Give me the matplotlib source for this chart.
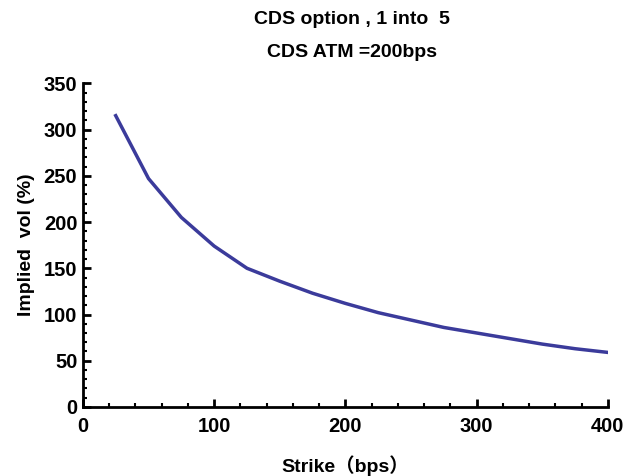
import numpy as np
import matplotlib
matplotlib.use("Agg")
import matplotlib.pyplot as plt
from matplotlib.ticker import MultipleLocator

# strike (bps) and implied vol (%)
strike = [25, 50, 75, 100, 125, 150, 175, 200, 225, 250, 275, 300, 325, 350, 375, 400]
implied_vol = [315, 247, 205, 174, 150, 136, 123, 112, 102, 94, 86, 80, 74, 68, 63, 59]

plt.rcParams['font.family'] = ['Liberation Sans', 'Noto Sans CJK SC', 'DejaVu Sans']
plt.rcParams['font.weight'] = 'bold'

fig = plt.figure(figsize=(6.28, 4.76), dpi=100)
ax = fig.add_axes([0.132, 0.145, 0.836, 0.68])

ax.plot(strike, implied_vol, color="#3b3b9b", linewidth=2.5)

ax.set_xlim(0, 400)
ax.set_ylim(0, 350)
ax.xaxis.set_major_locator(MultipleLocator(100))
ax.xaxis.set_minor_locator(MultipleLocator(20))
ax.yaxis.set_major_locator(MultipleLocator(50))
ax.yaxis.set_minor_locator(MultipleLocator(10))

for side in ["top", "right"]:
    ax.spines[side].set_visible(False)
for side in ["left", "bottom"]:
    ax.spines[side].set_linewidth(2)

ax.tick_params(which="major", direction="in", length=6, width=2, labelsize=14.5, pad=4)
ax.tick_params(which="minor", direction="in", length=3, width=1.5)
ax.tick_params(axis="x", pad=7)

ax.set_xlabel("Strike（bps）", fontsize=14, fontweight="bold", labelpad=14)
ax.set_ylabel("Implied  vol (%)", fontsize=14, fontweight="bold", labelpad=6)

fig.text(0.56, 0.96, "CDS option , 1 into  5", ha="center", va="center", fontsize=14, fontweight="bold")
fig.text(0.56, 0.89, "CDS ATM =200bps", ha="center", va="center", fontsize=14, fontweight="bold")

fig.savefig("out.png", dpi=100)
